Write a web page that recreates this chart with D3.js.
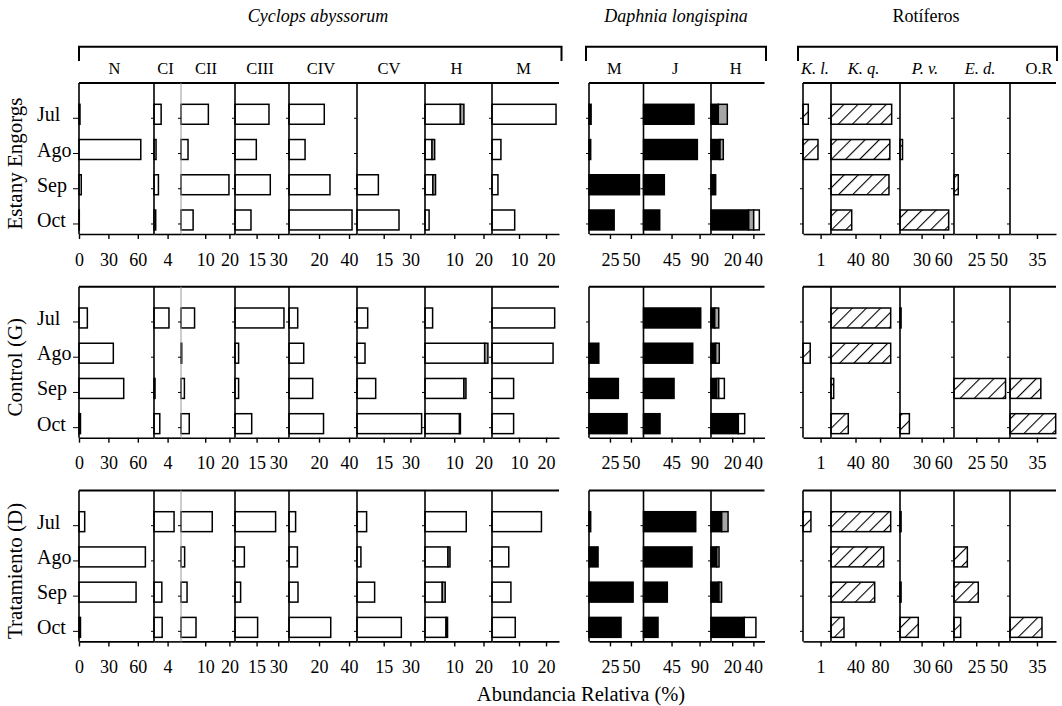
<!DOCTYPE html>
<html>
<head>
<meta charset="utf-8">
<script src="https://cdn.jsdelivr.net/npm/d3@7"></script>
<style>
  body { margin: 0; background: #fff; }
  svg { display: block; font-family: "Liberation Serif", "DejaVu Serif", serif; }
</style>
</head>
<body>
<script>
// ---------------- DATA ----------------
const months = ["Jul", "Ago", "Sep", "Oct"];
const sites = ["Estany Engorgs", "Control (G)", "Tratamiento (D)"];
const groupTitles = ["Cyclops abyssorum", "Daphnia longispina", "Rotíferos"];
const cycStages = ["N", "CI", "CII", "CIII", "CIV", "CV", "H", "M"];
const dapStages = ["M", "J", "H"];
const rotTaxa = ["K. l.", "K. q.", "P. v.", "E. d.", "O.R"];

// values: one array per site (Estany Engorgs, Control, Tratamiento), each Jul..Oct
const cycN   = [[1, 63, 2.3, 0.3], [8.5, 35, 45.6, 1.5], [5.8, 67.7, 58.2, 1.5]];
const cycCI  = [[2.1, 0.6, 1.3, 0.5], [4.4, 0, 0.3, 1.7], [5.9, 0, 2.3, 2.4]];
const cycCII = [[11.3, 2.9, 19.8, 5], [5.6, 0.3, 1.4, 3.4], [12.9, 1.5, 2.5, 6.2]];
const cycCIII = [[23.6, 14.8, 24.5, 11.1], [34, 2.5, 2.5, 11.6], [28.2, 6.5, 3.9, 15.7]];
const cycCIV = [[23.5, 10.7, 27.3, 42], [5.8, 9.8, 15.8, 23], [4.4, 5.6, 6, 27.8]];
const cycCV  = [[0, 0, 12, 23.6], [6, 4.5, 10.5, 36.3], [5.4, 2.2, 9.9, 24.9]];
const cycH1  = [[12.1, 2.4, 2.7, 1.4], [2.6, 20.4, 13.3, 11.8], [14.1, 7.85, 5.9, 7.2]];
const cycH2  = [[1.2, 0.9, 0.9, 0], [0, 1.1, 0.7, 0.3], [0, 0.7, 1.0, 0.5]];
const cycM   = [[23.7, 3.3, 2.2, 8.4], [23.2, 22.6, 8, 8], [18.3, 6.2, 7, 8.6]];

const dapM      = [[2.5, 2, 60.2, 30], [0, 11.7, 35, 45.4], [2, 10.8, 52.6, 38.2]];
const dapJ      = [[81, 86.4, 33.4, 26], [91.8, 79, 49, 26.5], [83.8, 77.8, 38.2, 23.3]];
const dapHblack = [[6.9, 8.5, 4.4, 35.6], [3.5, 4.4, 5.4, 25.8], [10.1, 5.4, 7.5, 31.4]];
const dapHgray  = [[8.5, 3.1, 0, 4.7], [3.8, 3.4, 1.9, 0], [6, 2.2, 2.5, 0]];
const dapHwhite = [[0, 0, 0, 5.3], [0, 0, 5.3, 6], [0, 0, 0, 11]];

const rotKl = [[0.3, 0.85, 0, 0], [0, 0.41, 0, 0], [0.45, 0, 0, 0]];
const rotKq = [[99, 96, 94.6, 33.8], [97.4, 97.4, 4.4, 28.2], [97.4, 86, 71.3, 21.2]];
const rotPv = [[0, 3.5, 0, 67.6], [1.5, 0, 0, 13], [1.5, 0, 1.5, 25.4]];
const rotEd = [[0, 0, 4.8, 0], [0, 0, 58, 0], [0, 15, 27.3, 7.5]];
const rotOR = [[0, 0, 0, 0], [0, 0, 40, 59.3], [0, 0, 0, 41.5]];

// tick values per panel
const ticksCyc = [[0, 30, 60], [4], [10, 20], [15, 30], [20, 40], [15, 30], [10, 20], [10, 20]];
const ticksDap = [[25, 50], [45, 90], [20, 40]];
const ticksRot = [[1], [40, 80], [30, 60], [25, 50], [35]];

// ---------------- LAYOUT ----------------
const W = 1062, H = 706;
const svg = d3.select("body").append("svg").attr("width", W).attr("height", H);

const defs = svg.append("defs");
defs.append("pattern")
  .attr("id", "hatch").attr("patternUnits", "userSpaceOnUse")
  .attr("width", 10).attr("height", 10)
  .attr("patternTransform", "rotate(45)")
  .call(p => {
    p.append("rect").attr("width", 10).attr("height", 10).attr("fill", "#fff");
    p.append("line").attr("x1", 0).attr("y1", 0).attr("x2", 0).attr("y2", 10)
      .attr("stroke", "#000").attr("stroke-width", 2.2);
  });

const WHITE = "#ffffff", BLACK = "#000000", GRAY = "#a6a6a6", HATCH = "url(#hatch)";

const groups = [
  {
    title: groupTitles[0], italic: true, titleX: 318, bx0: 79, bx1: 561.5,
    panels: [
      { label: cycStages[0], x0: 79, x1: 154, max: 76.5, ticks: ticksCyc[0], series: [[cycN, WHITE]], zeroLabel: true },
      { label: cycStages[1], x0: 154, x1: 181, max: 7.94, ticks: ticksCyc[1], series: [[cycCI, WHITE]] },
      { label: cycStages[2], x0: 181, x1: 235, max: 22.3, ticks: ticksCyc[2], series: [[cycCII, WHITE]], grayAxis: true },
      { label: cycStages[3], x0: 235, x1: 289, max: 37.5, ticks: ticksCyc[3], series: [[cycCIII, WHITE]] },
      { label: cycStages[4], x0: 289, x1: 357, max: 45.3, ticks: ticksCyc[4], series: [[cycCIV, WHITE]] },
      { label: cycStages[5], x0: 357, x1: 425, max: 38.2, ticks: ticksCyc[5], series: [[cycCV, WHITE]] },
      { label: cycStages[6], x0: 425, x1: 492, max: 22.9, ticks: ticksCyc[6], series: [[cycH1, WHITE], [cycH2, GRAY]] },
      { label: cycStages[7], x0: 492, x1: 559, max: 24.8, ticks: ticksCyc[7], series: [[cycM, WHITE]] }
    ]
  },
  {
    title: groupTitles[1], italic: true, titleX: 676, bx0: 586, bx1: 766,
    panels: [
      { label: dapStages[0], x0: 589, x1: 643.5, max: 65, ticks: ticksDap[0], series: [[dapM, BLACK]] },
      { label: dapStages[1], x0: 643.5, x1: 711, max: 108.3, ticks: ticksDap[1], series: [[dapJ, BLACK]] },
      { label: dapStages[2], x0: 711, x1: 764.5, max: 50.5, ticks: ticksDap[2], series: [[dapHblack, BLACK], [dapHgray, GRAY], [dapHwhite, WHITE]] }
    ]
  },
  {
    title: groupTitles[2], italic: false, titleX: 926, bx0: 798, bx1: 1057,
    panels: [
      { label: rotTaxa[0], italic: true, x0: 803, x1: 831, max: 1.59, ticks: ticksRot[0], series: [[rotKl, HATCH]] },
      { label: rotTaxa[1], italic: true, x0: 831, x1: 900, max: 112.6, ticks: ticksRot[1], series: [[rotKq, HATCH]] },
      { label: rotTaxa[2], italic: true, x0: 900, x1: 954, max: 75, ticks: ticksRot[2], series: [[rotPv, HATCH]] },
      { label: rotTaxa[3], italic: true, x0: 954, x1: 1010, max: 63, ticks: ticksRot[3], series: [[rotEd, HATCH]] },
      { label: rotTaxa[4], italic: false, x0: 1010, x1: 1056, max: 59.7, ticks: ticksRot[4], series: [[rotOR, HATCH]], labelDx: 8 }
    ]
  }
];

const rowTop = i => 83 + i * 203.7;
const rowH = 151;

// ---------------- HEADERS ----------------
groups.forEach(g => {
  svg.append("text").attr("x", g.titleX).attr("y", 22)
    .attr("text-anchor", "middle").attr("font-size", 18)
    .attr("font-style", g.italic ? "italic" : "normal")
    .text(g.title);
  svg.append("path")
    .attr("d", `M${g.bx0},61V46.7H${g.bx1}V61`)
    .attr("fill", "none").attr("stroke", "#000").attr("stroke-width", 2);
  g.panels.forEach(p => {
    svg.append("text").attr("x", (p.x0 + p.x1) / 2 - 2 + (p.labelDx || 0)).attr("y", 74)
      .attr("text-anchor", "middle").attr("font-size", 16.5)
      .attr("font-style", p.italic ? "italic" : "normal")
      .text(p.label);
  });
});

// ---------------- ROWS ----------------
sites.forEach((site, si) => {
  const top = rowTop(si), bottom = top + rowH;
  const y = d3.scaleBand().domain(months).range([top, bottom])
    .paddingInner(0.434).paddingOuter(0.36).align(0.84);
  const bw = y.bandwidth();
  const row = svg.append("g");

  // row title
  const cy = (top + bottom) / 2 + 5;
  row.append("text").attr("transform", `translate(22,${cy}) rotate(-90)`)
    .attr("text-anchor", "middle").attr("font-size", 21).text(site);

  // month labels
  months.forEach(m => {
    row.append("text").attr("x", 37).attr("y", y(m) + bw / 2 + 7)
      .attr("font-size", 20).text(m);
  });

  groups.forEach(g => {
    // top line of group
    row.append("line").attr("x1", g.panels[0].x0).attr("x2", g.panels[g.panels.length - 1].x1)
      .attr("y1", top).attr("y2", top).attr("stroke", "#000").attr("stroke-width", 2);

    g.panels.forEach((p, pi) => {
      const x = d3.scaleLinear().domain([0, p.max]).range([p.x0, p.x1]);
      const pg = row.append("g");

      // bars (stacked segments)
      months.forEach((m, mi) => {
        let cum = 0;
        p.series.forEach(([arr, fill]) => {
          const v = arr[si][mi];
          if (v > 0) {
            pg.append("rect")
              .attr("x", x(cum)).attr("y", y(m))
              .attr("width", x(cum + v) - x(cum)).attr("height", bw)
              .attr("fill", fill).attr("stroke", "#000").attr("stroke-width", 1.5);
          }
          cum += v;
        });
      });

      // left axis line
      const isFirst = pi === 0;
      pg.append("line").attr("x1", p.x0).attr("x2", p.x0)
        .attr("y1", top).attr("y2", bottom)
        .attr("stroke", p.grayAxis ? "#9a9a9a" : "#000")
        .attr("stroke-width", p.grayAxis ? 1 : 1.6);
      months.forEach(m => {
        const ty = y(m) + bw / 2 + 4;
        pg.append("line").attr("x1", p.x0 - (isFirst && g === groups[0] ? 6 : 3)).attr("x2", p.x0)
          .attr("y1", ty).attr("y2", ty).attr("stroke", "#000").attr("stroke-width", 1);
      });

      // bottom axis
      const ax = d3.axisBottom(x).tickValues(p.ticks).tickSize(5).tickSizeOuter(0)
        .tickFormat(d3.format("d"));
      pg.append("g").attr("transform", `translate(0,${bottom})`).call(ax)
        .call(a => a.select(".domain").attr("stroke-width", 1.6))
        .call(a => a.selectAll(".tick line").attr("stroke-width", 1.4))
        .call(a => a.selectAll("text").attr("y", 19).attr("dy", "0.71em")
          .attr("font-size", 18).attr("font-family", "Liberation Serif, serif").attr("fill", "#000"));
    });
  });
});

// x-axis title
svg.append("text").attr("x", 581).attr("y", 701).attr("text-anchor", "middle")
  .attr("font-size", 20.5).text("Abundancia Relativa (%)");
</script>
</body>
</html>
